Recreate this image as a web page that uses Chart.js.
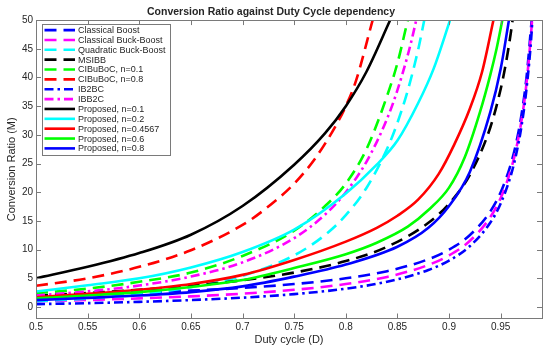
<!DOCTYPE html>
<html><head><meta charset="utf-8">
<script src="https://cdn.jsdelivr.net/npm/chart.js@4/dist/chart.umd.min.js"></script>
<style>html,body{margin:0;padding:0;background:#fff}</style>
</head><body>
<canvas id="c" width="550" height="352"></canvas>
<script>
// ---- tick labels ----
const xTicks = [0.5,0.55,0.6,0.65,0.7,0.75,0.8,0.85,0.9,0.95];
const yTicks = [0,5,10,15,20,25,30,35,40,45,50];

// ---- series (duty cycle D, conversion ratio M) ----
const boostD = [0.5,0.55,0.6,0.65,0.7,0.75,0.8,0.84,0.88,0.9,0.92,0.94,0.95,0.96,0.965,0.97,0.975,0.98];
const boostM = [2,2.22,2.5,2.86,3.33,4,5,6.25,8.33,10,12.5,16.67,20,25,28.57,33.33,40,50];

const buckBoostD = [0.5,0.55,0.6,0.65,0.7,0.75,0.8,0.84,0.88,0.9,0.92,0.94,0.95,0.96,0.965,0.97,0.975,0.98,0.9804];
const buckBoostM = [1,1.22,1.5,1.86,2.33,3,4,5.25,7.33,9,11.5,15.67,19,24,27.57,32.33,39,49,50];

const quadD = [0.5,0.55,0.6,0.65,0.7,0.75,0.78,0.8,0.82,0.84,0.85,0.86,0.87,0.876];
const quadM = [1,1.49,2.25,3.45,5.44,9,12.57,16,20.75,27.56,32.11,37.73,44.79,50];

const msibbD = [0.5,0.55,0.6,0.65,0.7,0.75,0.8,0.84,0.88,0.9,0.92,0.94,0.95,0.955,0.96,0.9615];
const msibbM = [2,2.44,3,3.71,4.67,6,8,10.5,14.67,18,23,31.33,38,42.44,48,50];

const cib01D = [0.5,0.55,0.6,0.65,0.7,0.75,0.78,0.8,0.82,0.84,0.85,0.86];
const cib01M = [2.4,3.2,4.4,6.0,8.9,13.3,17.6,21.5,27.5,36.8,42.5,50];

const cib08D = [0.5,0.55,0.6,0.65,0.7,0.72,0.75,0.77,0.79,0.8,0.81,0.826];
const cib08M = [3.7,5.0,7.0,9.9,14.3,16.8,21.5,25.8,31.5,35,39.5,50];

const ib2bcD = [0.5,0.55,0.6,0.65,0.7,0.75,0.8,0.84,0.88,0.9,0.92,0.94,0.95,0.96,0.965,0.97,0.975,0.98,0.9806];
const ib2bcM = [0.5,0.67,0.9,1.21,1.63,2.25,3.2,4.41,6.45,8.1,10.58,14.73,18.05,23.04,26.61,31.36,38.03,48.02,50];

const ibb2cD = [0.5,0.55,0.6,0.65,0.7,0.75,0.78,0.8,0.82,0.84,0.85,0.86,0.865,0.8682];
const ibb2cM = [2,2.72,3.75,5.31,7.78,12,16.12,20,25.31,32.81,37.78,43.88,47.46,50];

const p01D = [0.5,0.55,0.6,0.65,0.7,0.75,0.78,0.8,0.82,0.843];
const p01M = [5,7.0,9.4,12.6,17.6,24.8,30.3,35,41,50];

const p02D = [0.5,0.55,0.6,0.65,0.7,0.75,0.8,0.83,0.85,0.87,0.885,0.901];
const p02M = [2.7,3.8,5.0,6.9,9.6,13.5,19.8,24.8,29,35.5,41.5,50];

const p04567D = [0.5,0.55,0.6,0.65,0.7,0.75,0.8,0.83,0.85,0.87,0.89,0.905,0.92,0.932,0.943];
const p04567M = [1.7,2.3,3.0,4.0,5.6,8.2,11.4,13.8,15.9,18.7,23.2,28.3,34.5,41,50];

const p06D = [0.5,0.55,0.6,0.65,0.7,0.75,0.8,0.83,0.86,0.88,0.9,0.915,0.93,0.94,0.946,0.9516];
const p06M = [1.5,2.0,2.6,3.5,4.7,6.8,9.2,11.2,14.0,16.9,20.8,26,34,40.5,45,50];

const p08D = [0.5,0.55,0.6,0.65,0.7,0.75,0.8,0.85,0.88,0.9,0.92,0.94,0.95,0.958];
const p08M = [1.2,1.6,2.0,2.6,3.6,5.3,7.4,10.5,13.8,17.6,23.5,34,41.5,50];

const seriesLabels = ['Classical Boost','Classical Buck-Boost','Quadratic Buck-Boost','MSIBB',
  'CIBuBoC, n=0.1','CIBuBoC, n=0.8','IB2BC','IBB2C',
  'Proposed, n=0.1','Proposed, n=0.2','Proposed, n=0.4567','Proposed, n=0.6','Proposed, n=0.8'];
const seriesD = [boostD,buckBoostD,quadD,msibbD,cib01D,cib08D,ib2bcD,ibb2cD,p01D,p02D,p04567D,p06D,p08D];
const seriesM = [boostM,buckBoostM,quadM,msibbM,cib01M,cib08M,ib2bcM,ibb2cM,p01M,p02M,p04567M,p06M,p08M];

// ---- styles ----
const seriesColors = ['#0000ff','#ff00ff','#00ffff','#000000','#00ff00','#ff0000','#0000ff','#ff00ff',
  '#000000','#00ffff','#ff0000','#00ff00','#0000ff'];
const DASH = [12,7], DASHDOT = [9,4,2.5,4], SOLID = [];
const seriesDash = [DASH,DASH,DASH,DASH,DASH,DASH,DASHDOT,DASHDOT,SOLID,SOLID,SOLID,SOLID,SOLID];
const FONT = "'Liberation Sans', Arial, Helvetica, sans-serif";
const TXT = '#262626';
const LW = 2.6;

const datasets = seriesLabels.map((lab,i)=>({
  label: lab,
  data: seriesD[i].map((d,k)=>({x:d, y:seriesM[i][k]})),
  borderColor: seriesColors[i],
  backgroundColor: seriesColors[i],
  borderWidth: LW,
  borderDash: seriesDash[i],
  pointRadius: 0,
  fill: false,
  cubicInterpolationMode: 'monotone',
  order: seriesLabels.length - i
}));

const framePlugin = {
  id: 'frame',
  afterDatasetsDraw(chart){
    const {ctx, chartArea:a, scales:{x,y}} = chart;
    ctx.save();
    ctx.strokeStyle = '#7a7a7a';
    ctx.lineWidth = 1;
    ctx.setLineDash([]);
    ctx.beginPath();
    x.ticks.forEach(t=>{
      const px = Math.round(x.getPixelForValue(t.value))+0.5;
      ctx.moveTo(px,a.bottom); ctx.lineTo(px,a.bottom-5);
      ctx.moveTo(px,a.top); ctx.lineTo(px,a.top+5);
    });
    y.ticks.forEach(t=>{
      const py = Math.round(y.getPixelForValue(t.value))+0.5;
      ctx.moveTo(a.left,py); ctx.lineTo(a.left+5,py);
      ctx.moveTo(a.right,py); ctx.lineTo(a.right-5,py);
    });
    ctx.stroke();
    ctx.strokeRect(Math.round(a.left)+0.5, Math.round(a.top)+0.5, Math.round(a.right-a.left), Math.round(a.bottom-a.top));
    ctx.restore();
  }
};

const legendPlugin = {
  id: 'innerLegend',
  afterDraw(chart){
    const {ctx, chartArea:a} = chart;
    const bx = a.left + 6, by = a.top + 4, bw = 128, bh = 131;
    const rowH = 9.86;
    ctx.save();
    ctx.fillStyle = '#fff';
    ctx.fillRect(bx, by, bw, bh);
    ctx.strokeStyle = '#7a7a7a'; ctx.lineWidth = 1; ctx.setLineDash([]);
    ctx.strokeRect(Math.round(bx)+0.5, Math.round(by)+0.5, bw, bh);
    ctx.font = '9px ' + FONT;
    ctx.textBaseline = 'middle';
    chart.data.datasets.forEach((ds,i)=>{
      const yy = by + 6 + i*rowH;
      ctx.strokeStyle = ds.borderColor;
      ctx.lineWidth = LW;
      ctx.setLineDash(ds.borderDash);
      ctx.beginPath(); ctx.moveTo(bx+2.5, yy); ctx.lineTo(bx+33, yy); ctx.stroke();
      ctx.setLineDash([]);
      ctx.fillStyle = TXT;
      ctx.fillText(ds.label, bx+36, yy+0.5);
    });
    ctx.restore();
  }
};

new Chart(document.getElementById('c'), {
  type: 'line',
  data: { datasets },
  options: {
    responsive: false, animation: false, devicePixelRatio: 1,
    layout: { padding: { left: 0, right: 8, top: 0, bottom: 0 } },
    plugins: {
      legend: { display: false },
      tooltip: { enabled: false },
      title: { display: true, text: 'Conversion Ratio against Duty Cycle dependency',
        font: { family: FONT, size: 10.5, weight: 'bold', lineHeight: 1.15 }, color: TXT, padding: { top: 6, bottom: 2 } }
    },
    scales: {
      x: {
        type: 'linear', min: 0.5, max: 0.99,
        afterBuildTicks: s => { s.ticks = xTicks.map(v=>({value:v})); },
        afterFit: s => { s.height = 33.5; },
        grid: { display: false, drawTicks: false }, border: { display: false },
        ticks: { font: { family: FONT, size: 10 }, color: TXT, padding: 3, maxRotation: 0, autoSkip: false,
          callback: v => String(v) },
        title: { display: true, text: 'Duty cycle (D)', font: { family: FONT, size: 11 }, color: TXT,
          padding: { top: 0, bottom: 5.4 } }
      },
      y: {
        type: 'linear', min: -2, max: 50,
        afterBuildTicks: s => { s.ticks = yTicks.map(v=>({value:v})); },
        afterFit: s => { s.width = 36; },
        grid: { display: false, drawTicks: false }, border: { display: false },
        ticks: { font: { family: FONT, size: 10 }, color: TXT, padding: 3, autoSkip: false,
          callback: v => String(v) },
        title: { display: true, text: 'Conversion Ratio (M)', font: { family: FONT, size: 11 }, color: TXT,
          padding: { top: 5.4, bottom: 0 } }
      }
    }
  },
  plugins: [framePlugin, legendPlugin]
});
</script>
</body></html>
